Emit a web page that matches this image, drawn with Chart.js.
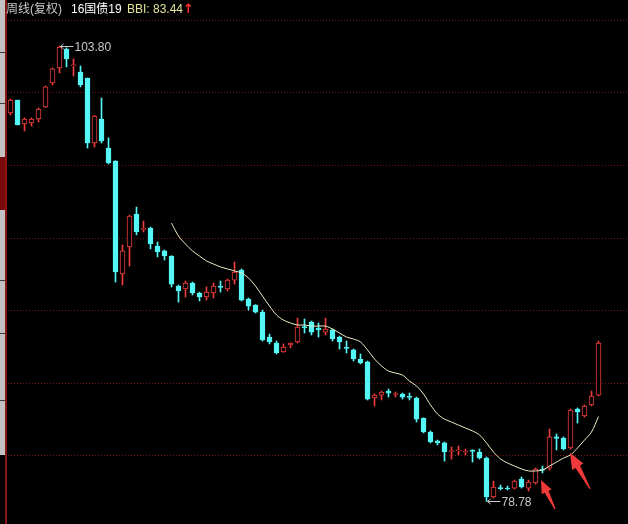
<!DOCTYPE html>
<html>
<head>
<meta charset="utf-8">
<script src="https://cdn.jsdelivr.net/npm/chart.js@4/dist/chart.umd.min.js"></script>
<style>
  html, body { margin: 0; padding: 0; background: #000; }
  #wrap { position: relative; width: 628px; height: 524px; overflow: hidden; background: #000; }
  #kline { position: absolute; left: 0; top: 0; }
  #head { position: absolute; left: 0; top: 2px; height: 16px; font: 12px "Liberation Sans", "Noto Sans CJK SC", sans-serif; white-space: nowrap; }
  #head span { position: absolute; top: 0; line-height: 14px; }
  #head .up { left: 183px; top: -1px; color: #ff2e2e; font: bold 13px "DejaVu Sans", sans-serif; line-height: 16px; }
</style>
</head>
<body>
<div id="wrap">
  <canvas id="kline" width="628" height="524"></canvas>
  <div id="head">
    <span style="left:6px;color:#c8c8c8">周线(复权)</span>
    <span style="left:71px;color:#ffffff">16国债19</span>
    <span id="bbiText" style="left:127px;color:#e2e29a">BBI: 83.44</span>
    <span class="up">↑</span>
  </div>
</div>
<script>
// Weekly candles of 16国债19 (adjusted prices)
const weeks = Array.from({ length: 85 }, (_, i) => 'W' + (i + 1));

const opens = [
  100.12, 100.83, 99.52, 99.57, 99.79, 100.45, 101.77, 102.59, 103.63, 102.71,
  102.37, 102.04, 98.47, 99.79, 98.19, 97.48, 91.27, 92.76, 94.57, 93.72,
  93.80, 92.81, 92.54, 92.26, 90.61, 90.45, 90.78, 90.23, 90.01, 90.23,
  90.61, 90.45, 90.94, 91.49, 89.90, 89.57, 89.18, 87.81, 87.48, 86.99,
  87.37, 87.54, 88.39, 88.63, 88.30, 88.08, 88.20, 87.81, 87.24, 87.10,
  86.60, 86.44, 84.46, 84.62, 84.84, 84.65, 84.68, 84.54, 84.46, 83.36,
  82.59, 82.10, 81.99, 81.49, 81.55, 81.49, 81.60, 81.49, 81.16, 79.02,
  79.54, 79.51, 79.51, 80.01, 79.51, 79.79, 80.56, 80.61, 82.32, 82.26,
  81.71, 83.85, 83.47, 84.08, 84.62
];
const highs = [
  100.89, 100.83, 99.85, 99.85, 100.39, 101.60, 102.59, 103.80, 103.70, 103.09,
  102.70, 102.04, 99.98, 100.94, 98.75, 97.50, 92.87, 94.51, 94.95, 94.18,
  93.85, 93.03, 92.59, 92.28, 90.67, 90.89, 90.83, 90.28, 90.56, 90.78,
  90.89, 91.00, 91.93, 91.55, 89.95, 89.59, 89.29, 87.97, 87.59, 87.43,
  87.49, 88.85, 88.80, 88.69, 88.58, 88.85, 88.25, 87.86, 87.59, 87.15,
  86.88, 86.49, 84.68, 84.84, 84.95, 84.79, 84.73, 84.73, 84.51, 83.37,
  82.65, 82.15, 82.04, 81.77, 81.82, 81.66, 81.62, 81.66, 81.22, 79.90,
  79.68, 79.62, 79.95, 80.12, 79.95, 80.61, 80.72, 82.76, 82.48, 82.32,
  83.85, 83.91, 84.08, 84.84, 87.59
];
const lows = [
  100.01, 99.46, 99.13, 99.40, 99.62, 100.42, 101.66, 102.32, 102.65, 102.15,
  101.55, 98.19, 98.25, 98.47, 97.32, 90.83, 90.67, 91.71, 93.42, 93.58,
  92.65, 92.21, 92.04, 90.56, 89.73, 90.01, 90.12, 89.79, 89.84, 89.95,
  90.28, 90.34, 90.72, 89.79, 89.29, 89.13, 87.59, 87.43, 86.88, 86.97,
  87.21, 87.48, 88.03, 87.92, 87.81, 87.92, 87.59, 87.15, 86.93, 86.49,
  86.33, 84.35, 84.02, 84.35, 84.51, 84.51, 84.40, 84.35, 83.14, 82.54,
  81.99, 81.88, 80.99, 81.10, 81.33, 81.33, 80.94, 81.10, 78.78, 78.96,
  79.41, 79.41, 79.46, 79.51, 79.35, 79.73, 80.34, 80.50, 81.60, 81.60,
  81.66, 83.08, 83.41, 84.02, 84.57
];
const closes = [
  100.83, 99.46, 99.79, 99.79, 100.34, 101.55, 102.54, 103.74, 103.09, 102.76,
  101.66, 98.47, 99.95, 98.58, 97.37, 91.38, 92.54, 94.46, 93.58, 93.77,
  92.92, 92.48, 92.26, 90.72, 90.34, 90.78, 90.23, 90.01, 90.28, 90.61,
  90.53, 90.94, 91.38, 89.84, 89.51, 89.18, 87.65, 87.54, 86.93, 87.26,
  87.48, 88.36, 88.33, 88.08, 88.20, 88.25, 87.70, 87.54, 87.18, 86.60,
  86.38, 84.40, 84.62, 84.79, 84.73, 84.70, 84.51, 84.49, 83.30, 82.59,
  82.04, 81.99, 81.49, 81.55, 81.60, 81.55, 81.52, 81.16, 79.02, 79.57,
  79.48, 79.46, 79.90, 79.57, 79.84, 80.56, 80.50, 82.32, 82.24, 81.66,
  83.80, 83.69, 84.02, 84.57, 87.48
];
// BBI = (MA3 + MA6 + MA12 + MA24) / 4, first value at week 24
const bbi = [
  null, null, null, null, null, null, null, null, null, null,
  null, null, null, null, null, null, null, null, null, null,
  null, null, null,
  94.07, 93.36, 92.92, 92.54, 92.26, 91.99, 91.82, 91.66, 91.55, 91.44,
  91.33, 91.05, 90.61, 90.06, 89.51, 89.02, 88.74, 88.58, 88.47, 88.47,
  88.41, 88.41, 88.41, 88.25, 88.03, 87.81, 87.70, 87.54, 87.10, 86.60,
  86.22, 85.94, 85.83, 85.72, 85.39, 85.12, 84.68, 84.08, 83.58, 83.30,
  83.14, 82.97, 82.81, 82.65, 82.43, 81.99, 81.49, 81.11, 80.89, 80.72,
  80.56, 80.45, 80.45, 80.50, 80.72, 80.94, 81.16, 81.33, 81.71, 82.15,
  82.59, 83.44
];
// price levels of the dotted guide lines
const gridLevels = [105.23, 101.245, 97.26, 93.275, 89.29, 85.305, 81.32];
// price range shown
const priceMin = 77.536;
const priceMax = 106.327;

const UP = '#ee3c3c';
const DOWN = '#54f6f6';
const isUp = opens.map((o, i) => closes[i] >= o);
const candleColor = isUp.map(u => (u ? UP : DOWN));
const bodyFill = isUp.map(u => (u ? '#000000' : DOWN));

document.getElementById('bbiText').textContent = 'BBI: ' + bbi[bbi.length - 1].toFixed(2);

// black backdrop, left ruler strip and dotted guide lines
const backdrop = {
  id: 'backdrop',
  beforeDatasetsDraw(chart) {
    const c = chart.ctx;
    const y = chart.scales.y;
    c.save();
    c.fillStyle = '#000';
    c.fillRect(0, 0, chart.width, chart.height);
    // left strip
    const cuts = [0, 52, 103, 157, 210, 280, 333, 400, 455];
    for (let k = 0; k < cuts.length - 1; k++) {
      c.fillStyle = (cuts[k] === 157) ? '#7a0a0a' : '#c2c2c2';
      c.fillRect(0, cuts[k], 5, cuts[k + 1] - cuts[k]);
      if (k > 0 && cuts[k] !== 157 && cuts[k] !== 210) {
        c.fillStyle = '#3a3a3a';
        c.fillRect(0, cuts[k], 5, 1);
      }
    }
    c.fillStyle = '#8e1414';
    c.fillRect(5, 0, 2, chart.height);
    // dotted guides
    c.strokeStyle = '#7a1212';
    c.lineWidth = 1;
    c.setLineDash([1, 2]);
    gridLevels.forEach(v => {
      const py = Math.round(y.getPixelForValue(v)) + 0.5;
      c.beginPath();
      c.moveTo(8, py);
      c.lineTo(chart.width, py);
      c.stroke();
    });
    c.restore();
  }
};

function drawArrow(c, tx, ty, sx, sy, headLen, headHalf, shaftHalf) {
  const dx = tx - sx, dy = ty - sy;
  const len = Math.hypot(dx, dy);
  const ux = dx / len, uy = dy / len;
  const nx = -uy, ny = ux;
  const bx = tx - ux * headLen, by = ty - uy * headLen;
  c.beginPath();
  c.moveTo(sx + nx * 0.6, sy + ny * 0.6);
  c.lineTo(bx + nx * shaftHalf, by + ny * shaftHalf);
  c.lineTo(bx + nx * headHalf, by + ny * headHalf);
  c.lineTo(tx, ty);
  c.lineTo(bx - nx * headHalf, by - ny * headHalf);
  c.lineTo(bx - nx * shaftHalf, by - ny * shaftHalf);
  c.lineTo(sx - nx * 0.6, sy - ny * 0.6);
  c.closePath();
  c.fill();
}

// extreme price tags and the two red pointers
const marks = {
  id: 'marks',
  afterDatasetsDraw(chart) {
    const c = chart.ctx;
    const x = chart.scales.x, y = chart.scales.y;
    c.save();
    c.font = '12px "Liberation Sans", sans-serif';
    c.textBaseline = 'middle';
    c.fillStyle = '#c8c8c8';
    c.strokeStyle = '#c8c8c8';
    c.lineWidth = 1;

    const hi = Math.max(...highs), hiIdx = highs.indexOf(hi);
    const lo = Math.min(...lows), loIdx = lows.indexOf(lo);
    [[hiIdx, hi], [loIdx, lo]].forEach(([idx, v]) => {
      const px = x.getPixelForValue(idx) + 1;
      const py = Math.round(y.getPixelForValue(v)) + 0.5;
      c.beginPath();
      c.moveTo(px, py); c.lineTo(px + 13, py);
      c.moveTo(px, py); c.lineTo(px + 3, py - 2.5);
      c.moveTo(px, py); c.lineTo(px + 3, py + 2.5);
      c.stroke();
      c.fillText(v.toFixed(2), px + 14, py + 1);
    });

    c.fillStyle = '#f0393a';
    const t1x = x.getPixelForValue(76) - 1.5, t1y = y.getPixelForValue(79.95);
    drawArrow(c, t1x, t1y, t1x + 14, t1y + 29, 13, 5.5, 2.2);
    const t2x = x.getPixelForValue(80) - 0.5, t2y = y.getPixelForValue(81.45);
    drawArrow(c, t2x, t2y, t2x + 20, t2y + 36, 16, 6.5, 2.6);
    c.restore();
  }
};

new Chart(document.getElementById('kline'), {
  type: 'bar',
  data: {
    labels: weeks,
    datasets: [
      {
        type: 'line',
        label: 'BBI',
        data: bbi,
        borderColor: '#eeecc4',
        borderWidth: 1,
        pointRadius: 0,
        tension: 0.3,
        order: 0
      },
      {
        label: '实体',
        data: opens.map((o, i) => [o, closes[i]]),
        backgroundColor: bodyFill,
        borderColor: candleColor,
        borderWidth: 1,
        borderSkipped: false,
        barThickness: 5,
        minBarLength: 1,
        grouped: false,
        order: 1
      },
      {
        label: '影线',
        data: lows.map((l, i) => [l, highs[i]]),
        backgroundColor: candleColor,
        borderWidth: 0,
        barThickness: 1,
        minBarLength: 1,
        grouped: false,
        order: 2
      }
    ]
  },
  options: {
    responsive: false,
    animation: false,
    devicePixelRatio: 1,
    layout: { padding: { left: 7, right: 26, top: 0, bottom: 0 } },
    plugins: { legend: { display: false }, tooltip: { enabled: false } },
    scales: {
      x: { display: false, offset: true },
      y: { display: false, min: priceMin, max: priceMax }
    }
  },
  plugins: [backdrop, marks]
});
</script>
</body>
</html>
